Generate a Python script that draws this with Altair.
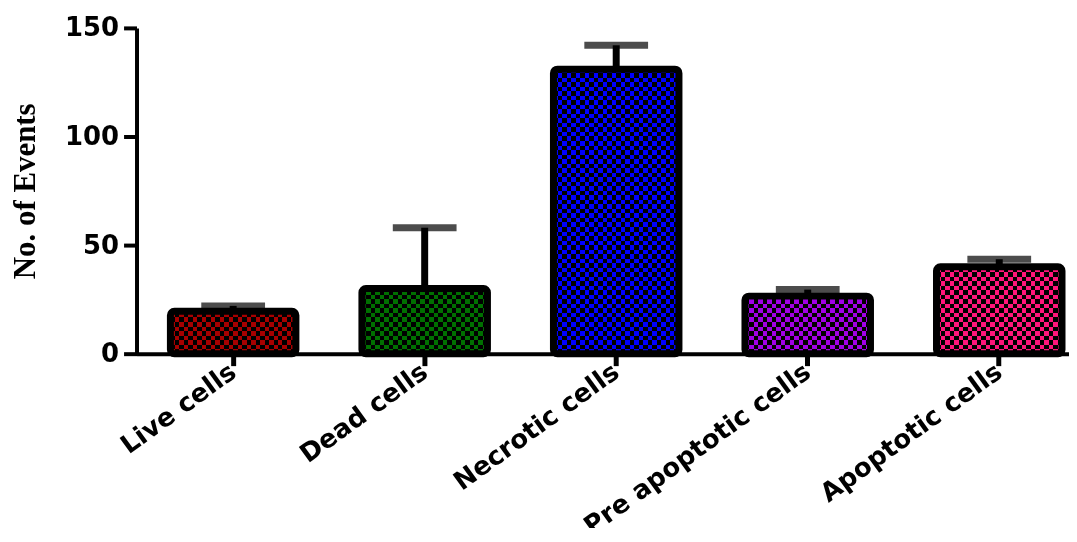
import altair as alt
import pandas as pd

categories = ["Live cells", "Dead cells", "Necrotic cells", "Pre apoptotic cells", "Apoptotic cells"]
means = [19.5, 30.0, 131.0, 26.5, 40.0]
errors = [2.5, 28.0, 11.0, 3.0, 3.5]
colors = ["#A80000", "#007000", "#0000FF", "#A000E6", "#FF157A"]
y_ticks = [0, 50, 100, 150]
y_max = 150

df = pd.DataFrame({"cat": categories, "mean": means, "err": errors})
df["upper"] = df["mean"] + df["err"]
df["zero"] = 0
df["top"] = y_max


def stripes(n, along_x):
    stops = []
    for i in range(n):
        c = "white" if i % 2 == 0 else "black"
        stops.append({"offset": i / n, "color": c})
        stops.append({"offset": (i + 1) / n, "color": c})
    g = {"gradient": "linear", "stops": stops}
    if along_x:
        g.update({"x1": 0, "x2": 1, "y1": 0, "y2": 0})
    else:
        g.update({"x1": 0, "x2": 0, "y1": 0, "y2": 1})
    return g


x_scale = alt.Scale(domain=categories, paddingInner=0.3446, paddingOuter=0.1067, align=0.829)
x_axis = alt.Axis(
    title=None, grid=False, labelAngle=-36, labelAlign="right", labelBaseline="middle",
    labelFont="DejaVu Sans", labelFontWeight="bold", labelFontSize=26, labelColor="black",
    labelLimit=500, labelOverlap=False, labelPadding=3,
    domainColor="black", domainWidth=4, tickColor="black", tickWidth=5, tickSize=12,
)
y_scale = alt.Scale(domain=[0, y_max], nice=False)
y_axis = alt.Axis(
    values=y_ticks, title="No. of Events", grid=False,
    labelFont="DejaVu Sans", labelFontWeight="bold", labelFontSize=26, labelColor="black",
    labelPadding=5, domainColor="black", domainWidth=4, tickColor="black", tickWidth=4, tickSize=13,
    titleFont="Liberation Serif", titleFontWeight="bold", titleFontSize=31, titleColor="black",
    titlePadding=23,
)


def X():
    return alt.X("cat:N", sort=categories, scale=x_scale, axis=x_axis)


def Y(field):
    return alt.Y(field, type="quantitative", scale=y_scale, axis=y_axis, title="No. of Events")


base = alt.Chart(df)

# horizontal stripes over the whole column
col = base.mark_bar(fill=stripes(72, False), strokeWidth=0).encode(x=X(), y=Y("zero"), y2="top")
# white cover above each bar (stroke slightly wider to hide edge seams)
cover = base.mark_bar(fill="white", stroke="white", strokeWidth=3).encode(x=X(), y=Y("mean"), y2="top")
# vertical stripes xor -> checkerboard
vstripe = base.mark_bar(fill=stripes(28, True), strokeWidth=0, blend="difference").encode(
    x=X(), y=Y("mean"), y2="zero")
# tint
tint = base.mark_bar(strokeWidth=0, blend="multiply").encode(
    x=X(), y=Y("mean"), y2="zero",
    fill=alt.Fill("cat:N", sort=categories, scale=alt.Scale(domain=categories, range=colors), legend=None),
)
outline = base.mark_bar(fillOpacity=0, stroke="black", strokeWidth=7, cornerRadius=4).encode(
    x=X(), y=Y("mean"), y2="zero")
stem = base.mark_rule(color="black", strokeWidth=7).encode(x=X(), y=Y("mean"), y2="upper")
cap = base.mark_tick(color="black", size=64, thickness=7).encode(x=X(), y=Y("upper"))

chart = alt.layer(col, cover, vstripe, tint, outline, stem, cap).properties(
    width=936, height=327,
    autosize=alt.AutoSizeParams(type="none"),
    padding={"left": 129, "top": 19, "right": 0, "bottom": 174},
    background="white",
).configure_view(stroke=None)

chart.save("out.html", embed_options={"renderer": "svg", "actions": False})
